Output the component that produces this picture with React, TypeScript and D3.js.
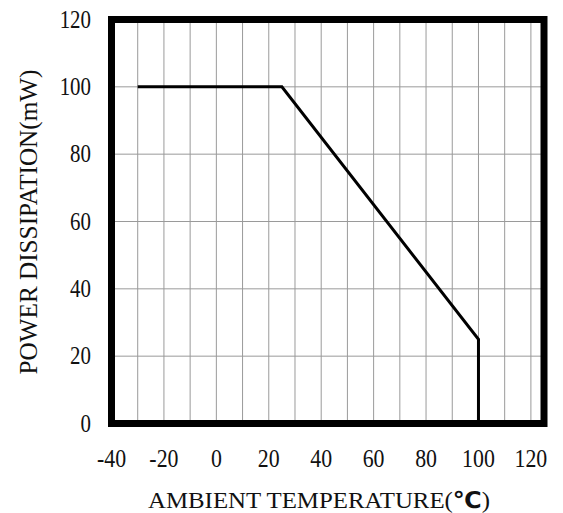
import React, { useEffect, useRef } from 'react';
import * as d3 from 'd3';

// derating curve
const tempC = [-30, 25, 100, 100];
const powerMW = [100, 100, 25, 0];

const xTicks = [-40, -20, 0, 20, 40, 60, 80, 100, 120];
const yTicks = [0, 20, 40, 60, 80, 100, 120];
const xGrid = [-30, -20, -10, 0, 10, 20, 30, 40, 50, 60, 70, 80, 90, 100, 110, 120];
const yGrid = [20, 40, 60, 80, 100];

const xTitle = 'AMBIENT TEMPERATURE(';
const yTitle = 'POWER DISSIPATION(mW)';

const W = 563;
const H = 513;

const App: React.FC = () => {
  const svgRef = useRef<SVGSVGElement>(null);

  useEffect(() => {
    if (!svgRef.current) return;
    const svg = d3.select(svgRef.current);
    svg.selectAll('*').remove();

    const left = 111.5, right = 544, top = 19.5, bottom = 423.5;
    const x = d3.scaleLinear().domain([-40, 125]).range([left, right]);
    const y = d3.scaleLinear().domain([0, 120]).range([bottom, top]);
    const serif = '"Liberation Serif", "DejaVu Serif", serif';

    svg.append('rect').attr('width', W).attr('height', H).attr('fill', '#fff');

    // grid
    const grid = svg.append('g').attr('stroke', '#9a9a9a').attr('stroke-width', 1);
    grid.selectAll('line.v')
      .data(xGrid)
      .join('line')
      .attr('class', 'v')
      .attr('x1', d => x(d)).attr('x2', d => x(d))
      .attr('y1', top).attr('y2', bottom);
    grid.selectAll('line.h')
      .data(yGrid)
      .join('line')
      .attr('class', 'h')
      .attr('x1', left).attr('x2', right)
      .attr('y1', d => y(d)).attr('y2', d => y(d));

    // curve
    const line = d3.line<number>()
      .x((_, i) => x(tempC[i]))
      .y(d => y(d));
    svg.append('path')
      .datum(powerMW)
      .attr('d', line)
      .attr('fill', 'none')
      .attr('stroke', '#000')
      .attr('stroke-width', 3)
      .attr('stroke-linejoin', 'miter');

    // frame
    svg.append('rect')
      .attr('x', left).attr('y', top)
      .attr('width', right - left).attr('height', bottom - top)
      .attr('fill', 'none')
      .attr('stroke', '#000')
      .attr('stroke-width', 7);

    // tick labels (slightly stretched to mimic the condensed mincho digits)
    svg.append('g')
      .selectAll('text')
      .data(xTicks)
      .join('text')
      .attr('transform', d => `translate(${x(d)},467) scale(0.95,1.1)`)
      .attr('text-anchor', 'middle')
      .attr('font-family', serif)
      .attr('font-size', 23)
      .attr('fill', '#111')
      .text(d => (d < 0 ? `-${-d}` : d));

    svg.append('g')
      .selectAll('text')
      .data(yTicks)
      .join('text')
      .attr('transform', d => `translate(91,${y(d) + 8}) scale(0.95,1.1)`)
      .attr('text-anchor', 'end')
      .attr('font-family', serif)
      .attr('font-size', 22)
      .attr('fill', '#111')
      .text(d => d);

    // axis titles
    const xt = svg.append('text')
      .attr('x', 319)
      .attr('y', 508)
      .attr('text-anchor', 'middle')
      .attr('font-family', serif)
      .attr('font-size', 24)
      .attr('fill', '#111')
      .attr('textLength', 342)
      .attr('lengthAdjust', 'spacingAndGlyphs');
    xt.append('tspan').text(xTitle);
    xt.append('tspan')
      .attr('font-family', '"DejaVu Sans", sans-serif')
      .attr('font-weight', 'bold')
      .attr('font-size', 23)
      .text('℃');
    xt.append('tspan').text(')');

    svg.append('text')
      .attr('transform', `translate(37,222) rotate(-90)`)
      .attr('text-anchor', 'middle')
      .attr('font-family', serif)
      .attr('font-size', 25)
      .attr('fill', '#111')
      .attr('textLength', 305)
      .attr('lengthAdjust', 'spacingAndGlyphs')
      .text(yTitle);
  }, []);

  return (
    <svg
      ref={svgRef}
      width={W}
      height={H}
      style={{ position: 'absolute', left: 0, top: 0, display: 'block' }}
    />
  );
};

export default App;
